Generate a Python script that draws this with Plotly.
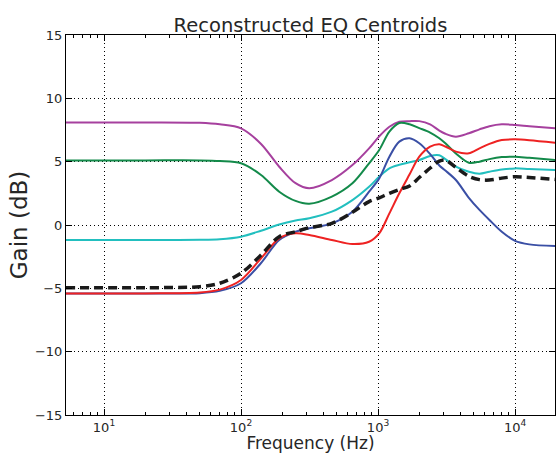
import numpy as np
import plotly.graph_objects as go

freq = [5.28, 20, 50, 70, 100, 140, 190, 250, 315, 460, 650, 860, 1020, 1210, 1430, 1700, 2000,
        2400, 2800, 3100, 3700, 4600, 5500, 6500, 8000, 10000, 12700, 19600]

purple = [8.1, 8.1, 8.07, 7.95, 7.63, 6.4, 4.6, 3.3, 2.9, 3.55, 4.73, 6.05, 7.0, 7.76, 8.15, 8.2, 8.2,
          7.95, 7.45, 7.2, 6.97, 7.24, 7.55, 7.8, 7.95, 7.9, 7.8, 7.63]
green = [5.1, 5.1, 5.1, 5.05, 4.87, 3.95, 2.63, 1.9, 1.68, 2.24, 3.29, 4.87, 5.92, 7.37, 8.05, 7.95, 7.65,
         7.3, 6.85, 6.45, 5.65, 4.92, 5.0, 5.2, 5.36, 5.39, 5.3, 5.13]
cyan = [-1.18, -1.18, -1.17, -1.12, -0.92, -0.45, 0.04, 0.35, 0.53, 1.05, 1.97, 3.02, 3.81, 4.47, 4.75, 4.95, 5.13,
        5.45, 5.5, 5.2, 4.6, 4.2, 4.05, 4.21, 4.38, 4.47, 4.42, 4.34]
blue = [-5.4, -5.4, -5.38, -5.2, -4.6, -3.0, -1.18, -0.53, -0.26, 0.13, 1.05, 2.63, 3.68, 5.39, 6.58, 6.84, 6.45,
        5.6, 4.7, 4.3, 3.55, 2.15, 1.19, 0.4, -0.53, -1.25, -1.53, -1.66]
red = [-5.4, -5.4, -5.33, -5.1, -4.34, -2.63, -1.05, -0.66, -0.79, -1.18, -1.5, -1.32, -0.66, 0.92, 2.5, 4.0, 5.39,
       6.18, 6.37, 6.2, 5.79, 5.66, 6.05, 6.4, 6.71, 6.76, 6.7, 6.5]
mean = [-4.95, -4.95, -4.87, -4.6, -3.81, -2.37, -0.92, -0.53, -0.21, 0.13, 1.0, 1.85, 2.15, 2.5, 2.8, 3.08, 3.75,
        4.5, 5.05, 5.13, 4.55, 3.85, 3.58, 3.55, 3.7, 3.81, 3.75, 3.6]

series = [
    ("purple", purple, "#a6409e"),
    ("green", green, "#138a4a"),
    ("cyan", cyan, "#22bfbf"),
    ("blue", blue, "#3a4fa5"),
    ("red", red, "#ee2222"),
]

x_tickvals = [10, 100, 1000, 10000]
x_ticktext = ["10<sup>1</sup>", "10<sup>2</sup>", "10<sup>3</sup>", "10<sup>4</sup>"]
y_tickvals = [-15, -10, -5, 0, 5, 10, 15]

minor_vals = [m * 10 ** k for k in range(0, 5) for m in range(2, 10)]

fig = go.Figure()
for name, vals, col in series:
    fig.add_trace(go.Scatter(x=freq, y=vals, mode="lines", name=name,
                             line=dict(color=col, width=2, shape="spline", smoothing=0.9)))
fig.add_trace(go.Scatter(x=freq, y=mean, mode="lines", name="mean",
                         line=dict(color="#1a1a1a", width=3.5, dash="9px,5px",
                                   shape="spline", smoothing=0.9)))

font = "DejaVu Sans, Verdana, sans-serif"
fig.update_layout(
    width=556, height=453,
    margin=dict(l=66, r=1, t=35, b=38),
    paper_bgcolor="white", plot_bgcolor="white",
    showlegend=False,
    font=dict(family=font, color="#262626", size=13),
    title=dict(text="Reconstructed EQ Centroids", x=0.5, xref="paper", xanchor="center",
               y=1, yref="paper", yanchor="bottom", pad=dict(b=3),
               font=dict(size=19.5, family=font, color="#262626")),
)
fig.update_xaxes(
    type="log", range=[np.log10(5.28), 4.2915],
    tickvals=x_tickvals, ticktext=x_ticktext,
    ticks="inside", ticklen=6, tickwidth=1, tickcolor="black",
    showline=True, linecolor="black", linewidth=1, mirror="ticks",
    showgrid=True, gridcolor="black", griddash="1px,3px", gridwidth=1,
    zeroline=False,
    minor=dict(tickvals=minor_vals, ticks="inside", ticklen=3, tickcolor="black", showgrid=False),
    title=dict(text="Frequency (Hz)", font=dict(size=17, family=font, color="#262626"), standoff=4),
    tickfont=dict(size=13, family=font, color="#262626"),
)
fig.update_yaxes(
    range=[-15, 15], tickvals=y_tickvals,
    ticks="inside", ticklen=6, tickwidth=1, tickcolor="black",
    showline=True, linecolor="black", linewidth=1, mirror="ticks",
    showgrid=True, gridcolor="black", griddash="1px,3px", gridwidth=1,
    zeroline=False,
    title=dict(text="Gain (dB)", font=dict(size=23, family=font, color="#262626"), standoff=0),
    tickfont=dict(size=13, family=font, color="#262626"),
)

fig.write_html("out.html")
